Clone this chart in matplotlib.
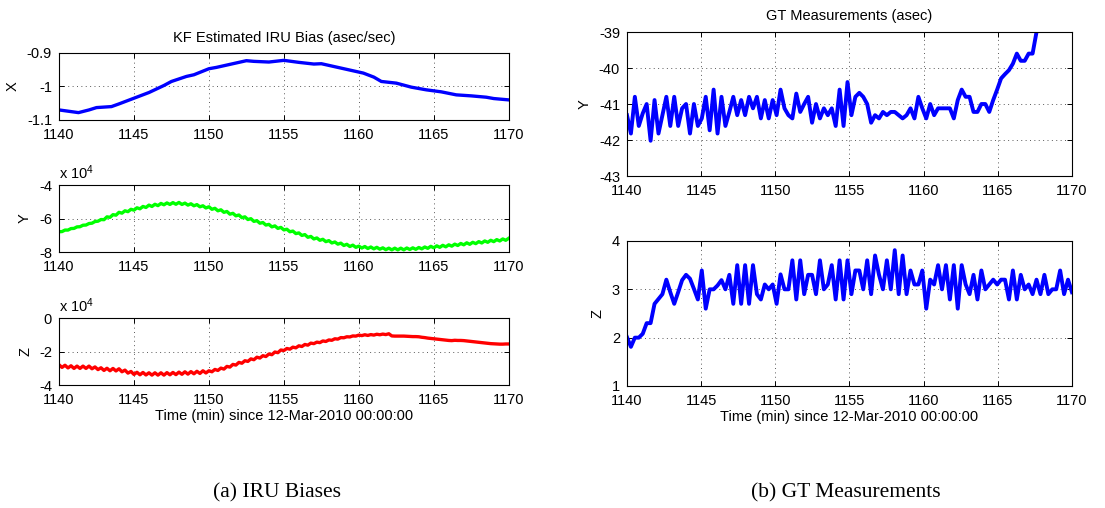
import numpy as np
import matplotlib
matplotlib.use('Agg')
import matplotlib.pyplot as plt

plt.rcParams['font.family'] = ['Liberation Sans', 'DejaVu Sans']
plt.rcParams['mathtext.default'] = 'regular'
plt.rcParams['axes.unicode_minus'] = False

# --- left panel: KF estimated IRU bias ---
x_time = [1140, 1141.3, 1142, 1142.5, 1143.5, 1144, 1145, 1146, 1147, 1147.5,
          1148.5, 1149, 1150, 1150.5, 1151.5, 1152.5, 1153, 1154, 1155, 1156,
          1157, 1157.5, 1158.5, 1159.5, 1160.3, 1161, 1161.5, 1162.5, 1163.5,
          1164.5, 1165.5, 1166.5, 1167.5, 1168.5, 1169, 1170]
x_bias = [-1.070, -1.078, -1.070, -1.063, -1.060, -1.052, -1.035, -1.018, -0.997, -0.985,
          -0.970, -0.965, -0.947, -0.943, -0.933, -0.923, -0.925, -0.927, -0.922, -0.928,
          -0.933, -0.932, -0.942, -0.952, -0.960, -0.972, -0.985, -0.990, -1.002,
          -1.010, -1.016, -1.025, -1.028, -1.032, -1.036, -1.040]

# Y and Z bias, units of 1e4, one sample every 0.2 min from 1140 to 1170
y_bias = [-6.79, -6.78, -6.69, -6.69, -6.60, -6.59, -6.50, -6.49, -6.40, -6.39,
          -6.30, -6.28, -6.18, -6.16, -6.06, -6.07, -5.90, -5.93, -5.77, -5.80,
          -5.63, -5.68, -5.54, -5.59, -5.45, -5.50, -5.36, -5.42, -5.28, -5.34,
          -5.20, -5.28, -5.15, -5.23, -5.10, -5.18, -5.07, -5.16, -5.05, -5.15,
          -5.04, -5.16, -5.08, -5.20, -5.12, -5.24, -5.17, -5.30, -5.24, -5.37,
          -5.30, -5.45, -5.39, -5.54, -5.48, -5.63, -5.58, -5.74, -5.69, -5.84,
          -5.79, -5.95, -5.90, -6.06, -6.01, -6.17, -6.13, -6.28, -6.24, -6.39,
          -6.35, -6.50, -6.44, -6.59, -6.53, -6.68, -6.64, -6.79, -6.75, -6.90,
          -6.86, -7.01, -6.96, -7.12, -7.07, -7.22, -7.16, -7.30, -7.24, -7.38,
          -7.32, -7.46, -7.40, -7.53, -7.47, -7.61, -7.54, -7.67, -7.59, -7.72,
          -7.65, -7.76, -7.67, -7.79, -7.70, -7.81, -7.72, -7.83, -7.75, -7.86,
          -7.77, -7.87, -7.77, -7.87, -7.77, -7.87, -7.76, -7.85, -7.75, -7.84,
          -7.73, -7.81, -7.70, -7.78, -7.66, -7.75, -7.63, -7.72, -7.60, -7.69,
          -7.57, -7.65, -7.53, -7.61, -7.49, -7.57, -7.45, -7.54, -7.42, -7.50,
          -7.38, -7.46, -7.34, -7.42, -7.30, -7.38, -7.26, -7.34, -7.22, -7.30,
          -7.18]
z_bias = [-2.79, -2.95, -2.82, -2.98, -2.85, -3.01, -2.87, -3.01, -2.87, -3.01,
          -2.87, -3.03, -2.92, -3.08, -2.97, -3.13, -3.00, -3.15, -3.01, -3.16,
          -3.03, -3.21, -3.11, -3.29, -3.19, -3.37, -3.24, -3.39, -3.25, -3.40,
          -3.27, -3.41, -3.27, -3.41, -3.27, -3.41, -3.26, -3.39, -3.25, -3.38,
          -3.23, -3.36, -3.21, -3.35, -3.20, -3.33, -3.18, -3.31, -3.15, -3.28,
          -3.15, -3.21, -3.07, -3.13, -2.99, -3.05, -2.89, -2.93, -2.77, -2.81,
          -2.65, -2.70, -2.55, -2.59, -2.44, -2.49, -2.34, -2.39, -2.25, -2.30,
          -2.15, -2.19, -2.03, -2.07, -1.91, -1.94, -1.82, -1.86, -1.74, -1.78,
          -1.66, -1.70, -1.58, -1.62, -1.50, -1.53, -1.44, -1.47, -1.37, -1.40,
          -1.31, -1.33, -1.24, -1.26, -1.17, -1.18, -1.12, -1.13, -1.07, -1.08,
          -1.02, -1.05, -1.00, -1.04, -0.99, -1.02, -0.97, -1.00, -0.96, -0.99,
          -0.94, -1.07, -1.08, -1.08, -1.08, -1.08, -1.09, -1.10, -1.11, -1.11,
          -1.12, -1.15, -1.17, -1.20, -1.22, -1.24, -1.26, -1.28, -1.30, -1.32,
          -1.34, -1.35, -1.33, -1.34, -1.34, -1.35, -1.37, -1.39, -1.41, -1.43,
          -1.45, -1.47, -1.49, -1.51, -1.53, -1.54, -1.55, -1.56, -1.56, -1.55,
          -1.55]

# --- right panel: GT measurements (asec) ---
gt_y = [-41.31, -41.82, -40.80, -41.61, -41.26, -41.00, -42.02, -40.89, -41.82, -41.31,
        -40.80, -41.61, -40.80, -41.61, -41.12, -41.00, -41.82, -41.00, -41.61, -41.40,
        -40.80, -41.73, -40.60, -41.82, -40.80, -41.61, -41.22, -40.80, -41.31, -40.89,
        -41.31, -40.80, -41.12, -40.80, -41.40, -40.89, -41.40, -40.89, -41.31, -40.60,
        -41.12, -41.31, -41.40, -40.71, -41.22, -41.00, -40.80, -41.52, -41.00, -41.40,
        -41.12, -41.31, -41.12, -41.61, -40.60, -41.61, -40.39, -41.31, -40.80, -40.69,
        -40.80, -41.00, -41.52, -41.31, -41.40, -41.22, -41.31, -41.22, -41.22, -41.31,
        -41.40, -41.31, -41.12, -41.40, -40.80, -41.12, -41.40, -41.00, -41.31, -41.12,
        -41.12, -41.12, -41.12, -41.40, -40.89, -40.60, -40.80, -40.80, -41.22, -41.22,
        -41.00, -41.00, -41.22, -40.89, -40.60, -40.29, -40.17, -40.06, -39.88, -39.60,
        -39.80, -39.80, -39.60, -39.60, -39.00, -38.50, -38.00, -37.60, -37.20, -36.80,
        -36.50, -36.20, -35.90, -35.60]
gt_z = [2.01, 1.81, 2.00, 2.00, 2.08, 2.30, 2.30, 2.70, 2.80, 2.90,
        3.20, 2.94, 2.70, 2.94, 3.19, 3.30, 3.22, 3.01, 2.79, 3.39,
        2.60, 3.00, 3.00, 3.08, 3.19, 3.00, 3.30, 2.70, 3.50, 2.70,
        3.50, 2.70, 3.50, 2.90, 2.79, 3.10, 3.00, 3.10, 2.70, 3.31,
        3.00, 3.00, 3.60, 2.79, 3.60, 2.90, 3.30, 3.30, 2.90, 3.60,
        3.00, 3.10, 3.50, 2.79, 3.60, 2.79, 3.60, 2.90, 3.39, 3.39,
        3.00, 3.60, 2.90, 3.70, 3.30, 3.00, 3.60, 3.00, 3.81, 2.90,
        3.70, 2.90, 3.39, 3.10, 3.10, 3.39, 2.60, 3.20, 3.10, 3.50,
        3.00, 3.50, 2.79, 3.50, 2.60, 3.50, 3.10, 2.90, 3.30, 2.79,
        3.39, 3.00, 3.10, 3.20, 3.10, 3.20, 3.20, 2.79, 3.39, 2.79,
        3.30, 3.00, 3.10, 2.90, 3.20, 2.90, 3.30, 2.90, 3.00, 3.00,
        3.39, 2.90, 3.20, 2.94]

x_ticks = [1140, 1145, 1150, 1155, 1160, 1165, 1170]
tick_x_bias = [-1.1, -1.0, -0.9]
tick_x_bias_lbl = ['-1.1', '-1', '-0.9']
tick_yz = [-8, -6, -4]
tick_z_bias = [-4, -2, 0]
tick_gt_y = [-43, -42, -41, -40, -39]
tick_gt_z = [1, 2, 3, 4]

t_bias = np.linspace(1140, 1170, len(y_bias))
t_gty = np.linspace(1140, 1170, len(gt_y))
t_gtz = np.linspace(1140, 1170, len(gt_z))

FS = 10.5
fig = plt.figure(figsize=(11.05, 5.08), dpi=100)


def style(ax, ylabel):
    ax.set_xlim(1140, 1170)
    ax.set_xticks(x_ticks)
    ax.tick_params(direction='in', top=True, right=True, length=3.5, width=0.7,
                   labelsize=FS)
    ax.tick_params(axis='x', pad=6)
    ax.tick_params(axis='y', pad=5)
    ax.grid(True, color='0.35', linestyle=(0, (1, 3.5)), linewidth=0.7)
    for s in ax.spines.values():
        s.set_linewidth(0.8)
    ax.set_ylabel(ylabel, fontsize=FS, labelpad=5)


# left column
ax1 = fig.add_axes([0.0534, 0.7638, 0.407, 0.1319])
ax1.plot(x_time, x_bias, color='#0000ff', lw=2.4)
ax1.set_ylim(-1.1, -0.9)
ax1.set_yticks(tick_x_bias)
ax1.set_yticklabels(tick_x_bias_lbl)
style(ax1, 'X')
ax1.set_title('KF Estimated IRU Bias (asec/sec)', fontsize=FS, pad=8)

ax2 = fig.add_axes([0.0534, 0.5039, 0.407, 0.1319])
ax2.plot(t_bias, y_bias, color='#00ff00', lw=2.4)
ax2.set_ylim(-8, -4)
ax2.set_yticks(tick_yz)
style(ax2, 'Y')
ax2.text(0, 1.04, r'x 10$^{4}$', transform=ax2.transAxes, fontsize=FS,
         ha='left', va='bottom')

ax3 = fig.add_axes([0.0534, 0.2421, 0.407, 0.1319])
ax3.plot(t_bias, z_bias, color='#ff0000', lw=2.4)
ax3.set_ylim(-4, 0)
ax3.set_yticks(tick_z_bias)
style(ax3, 'Z')
ax3.text(0, 1.04, r'x 10$^{4}$', transform=ax3.transAxes, fontsize=FS,
         ha='left', va='bottom')
ax3.set_xlabel('Time (min) since 12-Mar-2010 00:00:00', fontsize=FS, labelpad=1)

# right column
ax4 = fig.add_axes([0.5674, 0.6535, 0.4027, 0.2835])
ax4.plot(t_gty, gt_y, color='#0000ff', lw=2.8)
ax4.set_ylim(-43, -39)
ax4.set_yticks(tick_gt_y)
style(ax4, 'Y')
ax4.set_title('GT Measurements (asec)', fontsize=FS, pad=9)

ax5 = fig.add_axes([0.5674, 0.2402, 0.4027, 0.2854])
ax5.plot(t_gtz, gt_z, color='#0000ff', lw=2.8)
ax5.set_ylim(1, 4)
ax5.set_yticks(tick_gt_z)
style(ax5, 'Z')
ax5.set_xlabel('Time (min) since 12-Mar-2010 00:00:00', fontsize=FS, labelpad=1)

# captions
fig.text(0.251, 0.029, '(a) IRU Biases', family='Liberation Serif', fontsize=15.5,
         ha='center', va='center')
fig.text(0.765, 0.029, '(b) GT Measurements', family='Liberation Serif', fontsize=15.5,
         ha='center', va='center')

fig.savefig('out.png', dpi=100)
